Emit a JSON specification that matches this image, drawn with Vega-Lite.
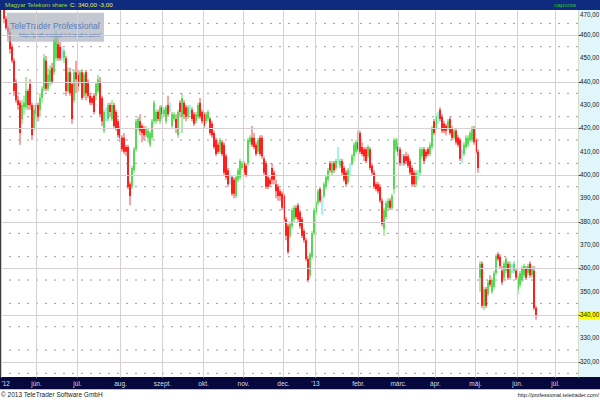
{
  "$schema": "https://vega.github.io/schema/vega-lite/v6.json",
  "width": 577,
  "height": 367,
  "autosize": {"type": "none"},
  "padding": {"left": 1, "top": 10, "right": 22, "bottom": 23},
  "background": "white",
  "config": {
    "view": {"stroke": null},
    "font": "Liberation Sans",
    "locale": {"number": {"decimal": ",", "thousands": " ", "grouping": [3], "currency": ["", ""]}}
  },
  "datasets": {
    "candles": [
      {"day":0,"open":471,"high":472,"low":465,"close":467},
      {"day":1,"open":467,"high":468,"low":462,"close":463},
      {"day":2,"open":463,"high":464,"low":459,"close":461},
      {"day":3,"open":461,"high":463,"low":452,"close":454},
      {"day":4,"open":455,"high":456,"low":448,"close":449},
      {"day":5,"open":449,"high":450,"low":434,"close":436},
      {"day":6,"open":440,"high":441,"low":431,"close":432},
      {"day":7,"open":432,"high":434,"low":428,"close":430},
      {"day":8,"open":431,"high":432,"low":413,"close":418},
      {"day":9,"open":424,"high":432,"low":422,"close":430},
      {"day":10,"open":429,"high":434,"low":426,"close":431},
      {"day":11,"open":429,"high":442,"low":428,"close":436},
      {"day":12,"open":436,"high":437,"low":428,"close":430},
      {"day":13,"open":439,"high":441,"low":428,"close":430},
      {"day":14,"open":430,"high":431,"low":415,"close":417},
      {"day":15,"open":420,"high":430,"low":419,"close":428},
      {"day":16,"open":426,"high":431,"low":424,"close":430},
      {"day":17,"open":430,"high":431,"low":423,"close":425},
      {"day":18,"open":428,"high":435,"low":425,"close":433},
      {"day":19,"open":433,"high":438,"low":431,"close":437},
      {"day":20,"open":437,"high":452,"low":436,"close":450},
      {"day":21,"open":449,"high":451,"low":436,"close":437},
      {"day":22,"open":437,"high":446,"low":436,"close":443},
      {"day":23,"open":440,"high":447,"low":438,"close":445},
      {"day":24,"open":446,"high":448,"low":439,"close":440},
      {"day":25,"open":444,"high":459,"low":443,"close":458},
      {"day":26,"open":450,"high":462,"low":449,"close":460},
      {"day":27,"open":456,"high":460,"low":449,"close":450},
      {"day":28,"open":455,"high":457,"low":449,"close":450},
      {"day":29,"open":452,"high":455,"low":449,"close":452},
      {"day":30,"open":450,"high":454,"low":448,"close":453},
      {"day":31,"open":450,"high":451,"low":434,"close":436},
      {"day":32,"open":436,"high":446,"low":435,"close":444},
      {"day":33,"open":444,"high":446,"low":434,"close":435},
      {"day":34,"open":439,"high":440,"low":422,"close":424},
      {"day":35,"open":432,"high":445,"low":431,"close":444},
      {"day":36,"open":444,"high":449,"low":435,"close":441},
      {"day":37,"open":443,"high":445,"low":436,"close":438},
      {"day":38,"open":440,"high":445,"low":439,"close":444},
      {"day":39,"open":444,"high":445,"low":432,"close":433},
      {"day":40,"open":434,"high":444,"low":433,"close":443},
      {"day":41,"open":444,"high":445,"low":432,"close":435},
      {"day":42,"open":440,"high":441,"low":433,"close":434},
      {"day":43,"open":434,"high":435,"low":430,"close":431},
      {"day":44,"open":433,"high":434,"low":430,"close":431},
      {"day":45,"open":434,"high":435,"low":426,"close":427},
      {"day":46,"open":434,"high":440,"low":432,"close":439},
      {"day":47,"open":436,"high":443,"low":435,"close":441},
      {"day":48,"open":440,"high":442,"low":425,"close":426},
      {"day":49,"open":433,"high":434,"low":421,"close":423},
      {"day":50,"open":419,"high":428,"low":418,"close":427},
      {"day":51,"open":424,"high":429,"low":423,"close":424},
      {"day":52,"open":424,"high":431,"low":423,"close":430},
      {"day":53,"open":430,"high":431,"low":425,"close":427},
      {"day":54,"open":424,"high":432,"low":423,"close":430},
      {"day":55,"open":430,"high":431,"low":420,"close":421},
      {"day":56,"open":427,"high":428,"low":419,"close":420},
      {"day":57,"open":423,"high":424,"low":416,"close":417},
      {"day":58,"open":420,"high":421,"low":414,"close":416},
      {"day":59,"open":416,"high":417,"low":410,"close":411},
      {"day":60,"open":416,"high":418,"low":409,"close":410},
      {"day":61,"open":412,"high":413,"low":408,"close":410},
      {"day":62,"open":412,"high":413,"low":394,"close":395},
      {"day":63,"open":396,"high":397,"low":387,"close":391},
      {"day":64,"open":395,"high":404,"low":394,"close":403},
      {"day":65,"open":402,"high":412,"low":401,"close":411},
      {"day":66,"open":411,"high":424,"low":410,"close":423},
      {"day":67,"open":420,"high":425,"low":419,"close":424},
      {"day":68,"open":423,"high":426,"low":417,"close":419},
      {"day":69,"open":421,"high":422,"low":414,"close":418},
      {"day":70,"open":420,"high":421,"low":415,"close":417},
      {"day":71,"open":417,"high":421,"low":416,"close":420},
      {"day":72,"open":416,"high":420,"low":414,"close":419},
      {"day":73,"open":413,"high":419,"low":412,"close":418},
      {"day":74,"open":416,"high":424,"low":415,"close":423},
      {"day":75,"open":423,"high":432,"low":422,"close":431},
      {"day":76,"open":423,"high":428,"low":422,"close":427},
      {"day":77,"open":427,"high":428,"low":423,"close":424},
      {"day":78,"open":423,"high":430,"low":422,"close":429},
      {"day":79,"open":429,"high":430,"low":424,"close":426},
      {"day":80,"open":426,"high":429,"low":425,"close":428},
      {"day":81,"open":423,"high":430,"low":422,"close":429},
      {"day":82,"open":430,"high":434,"low":425,"close":426},
      {"day":83,"open":428,"high":431,"low":427,"close":428},
      {"day":84,"open":421,"high":427,"low":420,"close":426},
      {"day":85,"open":424,"high":427,"low":423,"close":426},
      {"day":86,"open":424,"high":426,"low":418,"close":420},
      {"day":87,"open":417,"high":428,"low":416,"close":427},
      {"day":88,"open":431,"high":432,"low":425,"close":427},
      {"day":89,"open":425,"high":435,"low":418,"close":433},
      {"day":90,"open":431,"high":432,"low":424,"close":426},
      {"day":91,"open":429,"high":430,"low":423,"close":425},
      {"day":92,"open":425,"high":430,"low":424,"close":429},
      {"day":93,"open":428,"high":430,"low":426,"close":428},
      {"day":94,"open":428,"high":429,"low":423,"close":424},
      {"day":95,"open":426,"high":427,"low":421,"close":422},
      {"day":96,"open":423,"high":427,"low":422,"close":426},
      {"day":97,"open":425,"high":431,"low":424,"close":430},
      {"day":98,"open":431,"high":433,"low":424,"close":425},
      {"day":99,"open":427,"high":428,"low":422,"close":423},
      {"day":100,"open":426,"high":427,"low":420,"close":421},
      {"day":101,"open":423,"high":427,"low":422,"close":426},
      {"day":102,"open":424,"high":428,"low":423,"close":427},
      {"day":103,"open":424,"high":425,"low":417,"close":418},
      {"day":104,"open":422,"high":423,"low":416,"close":417},
      {"day":105,"open":418,"high":419,"low":411,"close":412},
      {"day":106,"open":415,"high":416,"low":408,"close":409},
      {"day":107,"open":413,"high":414,"low":409,"close":410},
      {"day":108,"open":410,"high":416,"low":409,"close":415},
      {"day":109,"open":414,"high":415,"low":408,"close":409},
      {"day":110,"open":413,"high":414,"low":400,"close":401},
      {"day":111,"open":408,"high":409,"low":398,"close":399},
      {"day":112,"open":402,"high":403,"low":395,"close":396},
      {"day":113,"open":398,"high":400,"low":396,"close":398},
      {"day":114,"open":399,"high":400,"low":391,"close":392},
      {"day":115,"open":398,"high":399,"low":390,"close":392},
      {"day":116,"open":391,"high":400,"low":390,"close":399},
      {"day":117,"open":398,"high":403,"low":397,"close":402},
      {"day":118,"open":399,"high":407,"low":398,"close":406},
      {"day":119,"open":403,"high":406,"low":402,"close":405},
      {"day":120,"open":405,"high":406,"low":400,"close":401},
      {"day":121,"open":404,"high":405,"low":399,"close":400},
      {"day":122,"open":405,"high":416,"low":404,"close":415},
      {"day":123,"open":414,"high":417,"low":413,"close":416},
      {"day":124,"open":416,"high":421,"low":412,"close":413},
      {"day":125,"open":416,"high":418,"low":411,"close":412},
      {"day":126,"open":413,"high":414,"low":408,"close":409},
      {"day":127,"open":410,"high":416,"low":409,"close":415},
      {"day":128,"open":416,"high":417,"low":408,"close":409},
      {"day":129,"open":416,"high":417,"low":407,"close":408},
      {"day":130,"open":407,"high":408,"low":400,"close":401},
      {"day":131,"open":405,"high":406,"low":394,"close":395},
      {"day":132,"open":399,"high":400,"low":394,"close":395},
      {"day":133,"open":398,"high":399,"low":395,"close":396},
      {"day":134,"open":403,"high":405,"low":396,"close":398},
      {"day":135,"open":401,"high":402,"low":396,"close":398},
      {"day":136,"open":396,"high":398,"low":390,"close":393},
      {"day":137,"open":395,"high":396,"low":389,"close":391},
      {"day":138,"open":393,"high":394,"low":389,"close":391},
      {"day":139,"open":392,"high":393,"low":385,"close":386},
      {"day":140,"open":391,"high":392,"low":380,"close":381},
      {"day":141,"open":381,"high":382,"low":372,"close":374},
      {"day":142,"open":378,"high":379,"low":366,"close":367},
      {"day":143,"open":374,"high":380,"low":373,"close":379},
      {"day":144,"open":378,"high":386,"low":377,"close":385},
      {"day":145,"open":381,"high":387,"low":380,"close":386},
      {"day":146,"open":386,"high":387,"low":381,"close":382},
      {"day":147,"open":387,"high":388,"low":380,"close":381},
      {"day":148,"open":384,"high":385,"low":377,"close":378},
      {"day":149,"open":381,"high":382,"low":373,"close":374},
      {"day":150,"open":376,"high":377,"low":371,"close":372},
      {"day":151,"open":372,"high":373,"low":363,"close":364},
      {"day":152,"open":364,"high":365,"low":354,"close":355},
      {"day":153,"open":357,"high":367,"low":356,"close":366},
      {"day":154,"open":365,"high":376,"low":364,"close":375},
      {"day":155,"open":375,"high":386,"low":374,"close":385},
      {"day":156,"open":384,"high":389,"low":383,"close":388},
      {"day":157,"open":388,"high":394,"low":387,"close":393},
      {"day":158,"open":394,"high":395,"low":388,"close":389},
      {"day":159,"open":390,"high":391,"low":383,"close":390},
      {"day":160,"open":391,"high":397,"low":390,"close":396},
      {"day":161,"open":395,"high":400,"low":394,"close":399},
      {"day":162,"open":398,"high":403,"low":397,"close":402},
      {"day":163,"open":405,"high":406,"low":401,"close":402},
      {"day":164,"open":401,"high":406,"low":400,"close":405},
      {"day":165,"open":405,"high":406,"low":401,"close":402},
      {"day":166,"open":403,"high":407,"low":402,"close":406},
      {"day":167,"open":408,"high":412,"low":405,"close":408},
      {"day":168,"open":404,"high":407,"low":403,"close":406},
      {"day":169,"open":406,"high":407,"low":400,"close":401},
      {"day":170,"open":403,"high":404,"low":397,"close":398},
      {"day":171,"open":401,"high":402,"low":395,"close":396},
      {"day":172,"open":397,"high":403,"low":396,"close":402},
      {"day":173,"open":403,"high":405,"low":400,"close":403},
      {"day":174,"open":405,"high":409,"low":404,"close":408},
      {"day":175,"open":408,"high":414,"low":406,"close":413},
      {"day":176,"open":410,"high":415,"low":409,"close":414},
      {"day":177,"open":414,"high":419,"low":410,"close":411},
      {"day":178,"open":418,"high":419,"low":409,"close":410},
      {"day":179,"open":412,"high":414,"low":408,"close":409},
      {"day":180,"open":411,"high":412,"low":406,"close":408},
      {"day":181,"open":411,"high":412,"low":405,"close":406},
      {"day":182,"open":408,"high":413,"low":407,"close":412},
      {"day":183,"open":411,"high":412,"low":402,"close":403},
      {"day":184,"open":404,"high":405,"low":400,"close":401},
      {"day":185,"open":401,"high":402,"low":394,"close":395},
      {"day":186,"open":396,"high":397,"low":393,"close":394},
      {"day":187,"open":396,"high":397,"low":392,"close":393},
      {"day":188,"open":395,"high":396,"low":388,"close":389},
      {"day":189,"open":389,"high":390,"low":378,"close":379},
      {"day":190,"open":377,"high":386,"low":374,"close":385},
      {"day":191,"open":382,"high":389,"low":381,"close":388},
      {"day":192,"open":386,"high":390,"low":385,"close":389},
      {"day":193,"open":389,"high":390,"low":385,"close":386},
      {"day":194,"open":386,"high":392,"low":385,"close":391},
      {"day":195,"open":394,"high":416,"low":392,"close":415},
      {"day":196,"open":411,"high":416,"low":410,"close":415},
      {"day":197,"open":412,"high":414,"low":408,"close":410},
      {"day":198,"open":411,"high":412,"low":404,"close":405},
      {"day":199,"open":407,"high":409,"low":404,"close":407},
      {"day":200,"open":408,"high":409,"low":404,"close":405},
      {"day":201,"open":408,"high":410,"low":405,"close":406},
      {"day":202,"open":408,"high":409,"low":403,"close":404},
      {"day":203,"open":406,"high":407,"low":400,"close":401},
      {"day":204,"open":403,"high":404,"low":395,"close":396},
      {"day":205,"open":401,"high":402,"low":395,"close":396},
      {"day":206,"open":396,"high":402,"low":395,"close":401},
      {"day":207,"open":400,"high":402,"low":398,"close":400},
      {"day":208,"open":401,"high":412,"low":400,"close":411},
      {"day":209,"open":408,"high":412,"low":407,"close":411},
      {"day":210,"open":411,"high":412,"low":405,"close":406},
      {"day":211,"open":410,"high":411,"low":407,"close":408},
      {"day":212,"open":411,"high":412,"low":408,"close":409},
      {"day":213,"open":409,"high":414,"low":408,"close":413},
      {"day":214,"open":412,"high":421,"low":411,"close":420},
      {"day":215,"open":423,"high":424,"low":417,"close":418},
      {"day":216,"open":420,"high":426,"low":419,"close":425},
      {"day":217,"open":425,"high":427,"low":422,"close":425},
      {"day":218,"open":428,"high":429,"low":423,"close":424},
      {"day":219,"open":425,"high":426,"low":418,"close":419},
      {"day":220,"open":422,"high":423,"low":418,"close":419},
      {"day":221,"open":421,"high":422,"low":417,"close":419},
      {"day":222,"open":420,"high":424,"low":419,"close":423},
      {"day":223,"open":424,"high":425,"low":417,"close":418},
      {"day":224,"open":420,"high":421,"low":415,"close":416},
      {"day":225,"open":416,"high":420,"low":415,"close":419},
      {"day":226,"open":419,"high":420,"low":413,"close":414},
      {"day":227,"open":416,"high":417,"low":412,"close":413},
      {"day":228,"open":415,"high":416,"low":406,"close":407},
      {"day":229,"open":409,"high":411,"low":405,"close":409},
      {"day":230,"open":409,"high":414,"low":408,"close":413},
      {"day":231,"open":412,"high":417,"low":411,"close":416},
      {"day":232,"open":413,"high":417,"low":412,"close":416},
      {"day":233,"open":415,"high":419,"low":414,"close":418},
      {"day":234,"open":415,"high":421,"low":414,"close":420},
      {"day":235,"open":420,"high":421,"low":413,"close":414},
      {"day":236,"open":415,"high":416,"low":409,"close":410},
      {"day":237,"open":410,"high":411,"low":401,"close":403},
      {"day":238,"open":356,"high":363,"low":350,"close":362},
      {"day":239,"open":362,"high":363,"low":343,"close":344},
      {"day":240,"open":344,"high":352,"low":342,"close":351},
      {"day":241,"open":351,"high":352,"low":343,"close":344},
      {"day":242,"open":349,"high":355,"low":348,"close":354},
      {"day":243,"open":355,"high":357,"low":352,"close":353},
      {"day":244,"open":350,"high":356,"low":349,"close":355},
      {"day":245,"open":352,"high":359,"low":351,"close":358},
      {"day":246,"open":358,"high":366,"low":357,"close":365},
      {"day":247,"open":366,"high":367,"low":363,"close":364},
      {"day":248,"open":365,"high":366,"low":360,"close":361},
      {"day":249,"open":359,"high":361,"low":353,"close":354},
      {"day":250,"open":356,"high":363,"low":355,"close":362},
      {"day":251,"open":359,"high":365,"low":358,"close":364},
      {"day":252,"open":362,"high":363,"low":355,"close":356},
      {"day":253,"open":356,"high":363,"low":355,"close":362},
      {"day":254,"open":360,"high":362,"low":358,"close":360},
      {"day":255,"open":359,"high":363,"low":358,"close":362},
      {"day":256,"open":359,"high":360,"low":355,"close":356},
      {"day":257,"open":351,"high":357,"low":349,"close":356},
      {"day":258,"open":353,"high":359,"low":352,"close":358},
      {"day":259,"open":355,"high":361,"low":354,"close":360},
      {"day":260,"open":357,"high":362,"low":356,"close":361},
      {"day":261,"open":360,"high":361,"low":355,"close":356},
      {"day":262,"open":358,"high":362,"low":357,"close":361},
      {"day":263,"open":362,"high":363,"low":356,"close":357},
      {"day":264,"open":357,"high":361,"low":356,"close":360},
      {"day":265,"open":359,"high":361,"low":342,"close":343},
      {"day":266,"open":343,"high":344,"low":338,"close":340}
    ],
    "dotted": [
      {"level":315},{"level":325},{"level":335},{"level":345},{"level":355},{"level":365},{"level":375},{"level":385},
      {"level":395},{"level":405},{"level":415},{"level":425},{"level":435},{"level":445},{"level":455},{"level":465}
    ],
    "levels": [
      {"level":320},{"level":330},{"level":340},{"level":350},{"level":360},{"level":370},{"level":380},{"level":390},
      {"level":400},{"level":410},{"level":420},{"level":430},{"level":440},{"level":450},{"level":460},{"level":470}
    ]
  },
  "layer": [
    {
      "data": {"name": "candles"},
      "mark": {"type": "bar", "width": 2, "clip": true},
      "encoding": {
        "x": {
          "field": "day", "type": "quantitative",
          "scale": {"domain": [-1.5, 287], "domainRaw": {"expr": "[-1.5, 287]"}, "nice": false, "zero": false},
          "axis": {
            "title": null,
            "values": [-1.5, 16, 36.5, 58, 79, 99.5, 119.5, 139.5, 155.5, 177, 197, 215.5, 235.5, 256.5, 275.5],
            "labelExpr": "[\"'12\",'jún.','júl.','aug.','szept.','okt.','nov.','dec.',\"'13\",'febr.','márc.','ápr.','máj.','jún.','júl.'][indexof([-1.5,16,36.5,58,79,99.5,119.5,139.5,155.5,177,197,215.5,235.5,256.5,275.5], datum.value)]",
            "labelAlign": {"condition": {"test": "datum.value < 0", "value": "left"}, "value": "center"},
            "domain": false, "ticks": false, "tickSize": 0,
            "labelPadding": 3, "labelFontSize": 6.5, "labelColor": "#dcdce8",
            "labelOverlap": false, "labelBound": false, "labelFlush": false,
            "grid": true, "gridColor": "#d8d0d0", "gridWidth": 1, "zindex": 1
          }
        },
        "y": {
          "field": "low", "type": "quantitative",
          "scale": {"domain": [313.44, 470.73], "domainRaw": {"expr": "[313.44, 470.73]"}, "nice": false, "zero": false},
          "axis": {
            "title": null, "orient": "right",
            "values": [320,330,340,350,360,370,380,390,400,410,420,430,440,450,460,470],
            "labels": false,
            "domainColor": "#c4c49a", "domainDash": [1, 1],
            "tickColor": "#333333", "tickSize": 2,
            "grid": true, "gridColor": "#d8d0d0",
            "zindex": 1
          }
        },
        "y2": {"field": "high"},
        "color": {
          "condition": [
            {"test": "datum.close < datum.open", "value": "#f5a3a3"},
            {"test": "datum.close > datum.open", "value": "#aeeaa8"}
          ],
          "value": "#9ff2f6"
        }
      }
    },
    {
      "data": {"name": "dotted"},
      "mark": {"type": "rule", "color": "#9a9a9a", "strokeDash": [2, 7], "strokeWidth": 1},
      "encoding": {
        "y": {"field": "level", "type": "quantitative"}
      }
    },
    {
      "data": {"values": [{}]},
      "mark": {"type": "rect", "fill": "#e0f6fa"},
      "encoding": {
        "x": {"datum": 287, "type": "quantitative"},
        "x2": {"datum": 300},
        "y": {"datum": 313.44, "type": "quantitative"},
        "y2": {"datum": 470.73}
      }
    },
    {
      "data": {"values": [{}]},
      "mark": {"type": "rect", "fill": "#ffff00"},
      "encoding": {
        "x": {"datum": 287.3, "type": "quantitative"},
        "x2": {"datum": 298.5},
        "y": {"datum": 338.1, "type": "quantitative"},
        "y2": {"datum": 341.7}
      }
    },
    {
      "data": {"name": "levels"},
      "mark": {"type": "text", "align": "left", "baseline": {"expr": "datum.level >= 470 ? 'top' : 'middle'"}, "dx": 2, "fontSize": 6.3, "color": "#1a1a1a"},
      "encoding": {
        "x": {"datum": 287, "type": "quantitative"},
        "y": {"field": "level", "type": "quantitative"},
        "text": {"field": "level", "type": "quantitative", "format": ".2f"}
      }
    },
    {
      "data": {"name": "candles"},
      "mark": {"type": "bar", "width": 2, "clip": true},
      "encoding": {
        "x": {"field": "day", "type": "quantitative"},
        "y": {"field": "open", "type": "quantitative"},
        "y2": {"field": "close"},
        "color": {
          "condition": [
            {"test": "datum.close < datum.open", "value": "#ff1f1f"},
            {"test": "datum.close > datum.open", "value": "#57d957"}
          ],
          "value": "#4fe3ec"
        }
      }
    },
    {
      "data": {"values": [{}]},
      "mark": {"type": "rect", "fill": "#0f2b7f"},
      "encoding": {
        "x": {"datum": -3, "type": "quantitative"},
        "x2": {"datum": 300},
        "y": {"datum": 470.73, "type": "quantitative"},
        "y2": {"datum": 476}
      }
    },
    {
      "data": {"values": [{}]},
      "mark": {"type": "rect", "fill": "#05073d"},
      "encoding": {
        "x": {"datum": -3, "type": "quantitative"},
        "x2": {"datum": 300},
        "y": {"datum": 313.44, "type": "quantitative"},
        "y2": {"datum": 308.2}
      }
    },
    {
      "data": {"values": [{}]},
      "mark": {"type": "rule", "color": "#3a3a3a", "strokeWidth": 1},
      "encoding": {
        "x": {"datum": -1.75, "type": "quantitative"}
      }
    },
    {
      "data": {"values": [{}]},
      "mark": {"type": "rect", "fill": "#aab1bd", "opacity": 0.7},
      "encoding": {
        "x": {"datum": 1.5, "type": "quantitative"},
        "x2": {"datum": 50},
        "y": {"datum": 457.1, "type": "quantitative"},
        "y2": {"datum": 469.6}
      }
    },
    {
      "data": {"values": [{"label": "TeleTrader Professional"}]},
      "mark": {"type": "text", "align": "center", "baseline": "middle", "fontSize": 8.5, "color": "#5b7db8"},
      "encoding": {
        "x": {"datum": 25.5, "type": "quantitative"},
        "y": {"datum": 464.0, "type": "quantitative"},
        "text": {"field": "label"}
      }
    },
    {
      "data": {"values": [{"label": "http://professional.teletrader.com/"}]},
      "mark": {"type": "text", "align": "center", "baseline": "middle", "fontSize": 5.5, "color": "#4a68a8"},
      "encoding": {
        "x": {"datum": 28, "type": "quantitative"},
        "y": {"datum": 460.2, "type": "quantitative"},
        "text": {"field": "label"}
      }
    },
    {
      "data": {"values": [{"label": "Magyar Telekom share"}]},
      "mark": {"type": "text", "align": "left", "baseline": "middle", "fontSize": 6.2, "color": "#a6d92a"},
      "encoding": {
        "x": {"datum": 0.5, "type": "quantitative"},
        "y": {"datum": 472.9, "type": "quantitative"},
        "text": {"field": "label"}
      }
    },
    {
      "data": {"values": [{"label": "C: 340,00 -3,00"}]},
      "mark": {"type": "text", "align": "left", "baseline": "middle", "fontSize": 6.2, "color": "#f2f23a"},
      "encoding": {
        "x": {"datum": 33, "type": "quantitative"},
        "y": {"datum": 472.9, "type": "quantitative"},
        "text": {"field": "label"}
      }
    },
    {
      "data": {"values": [{"label": "naponta"}]},
      "mark": {"type": "text", "align": "center", "baseline": "middle", "fontSize": 6, "color": "#22c322"},
      "encoding": {
        "x": {"datum": 280.5, "type": "quantitative"},
        "y": {"datum": 472.9, "type": "quantitative"},
        "text": {"field": "label"}
      }
    },
    {
      "data": {"values": [{"label": "© 2013 TeleTrader Software GmbH"}]},
      "mark": {"type": "text", "align": "left", "baseline": "middle", "fontSize": 6.5, "color": "#222222"},
      "encoding": {
        "x": {"datum": -1.5, "type": "quantitative"},
        "y": {"datum": 305.7, "type": "quantitative"},
        "text": {"field": "label"}
      }
    },
    {
      "data": {"values": [{"label": "http://professional.teletrader.com/"}]},
      "mark": {"type": "text", "align": "right", "baseline": "middle", "fontSize": 5.5, "color": "#222222"},
      "encoding": {
        "x": {"datum": 297.5, "type": "quantitative"},
        "y": {"datum": 305.7, "type": "quantitative"},
        "text": {"field": "label"}
      }
    }
  ]
}
